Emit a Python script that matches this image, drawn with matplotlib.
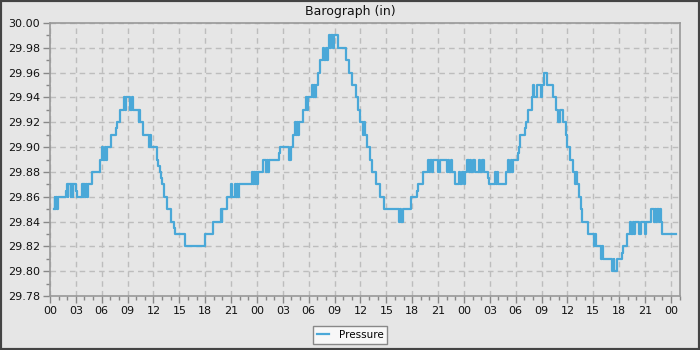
import numpy as np
import matplotlib
matplotlib.use('Agg')
import matplotlib.pyplot as plt
from matplotlib.ticker import MultipleLocator, FuncFormatter
from matplotlib.patches import Rectangle

# --- DATA (hours since first midnight, pressure in inHg), step changes ---
hours = [
    0.45, 0.55, 0.62, 0.72, 0.80, 0.90, 1.85, 1.95, 2.05, 2.12,
    2.40, 2.48, 2.62, 2.70, 3.05, 3.15, 3.70, 3.78, 3.86, 4.05,
    4.12, 4.30, 4.38, 4.85, 5.76, 6.08, 6.15, 6.35, 6.50, 6.60,
    7.04, 7.60, 7.80, 8.10, 8.58, 8.65, 8.80, 9.27, 9.50, 9.58,
    10.27, 10.35, 10.45, 10.77, 11.50, 11.58, 11.70, 12.36, 12.56, 12.75,
    12.87, 13.02, 13.17, 13.52, 14.00, 14.35, 14.45, 15.65, 17.97, 18.86,
    19.85, 19.92, 20.00, 20.48, 20.95, 21.15, 21.45, 21.55, 21.65, 21.85,
    21.95, 23.45, 23.55, 23.65, 23.80, 23.90, 24.05, 24.15, 24.74, 25.05,
    25.15, 25.30, 25.45, 26.55, 26.70, 27.70, 28.00, 28.20, 28.40, 28.50,
    28.65, 28.80, 28.90, 29.37, 29.68, 29.78, 29.90, 30.34, 30.45, 30.60,
    30.72, 30.85, 31.10, 31.30, 31.70, 31.80, 32.00, 32.10, 32.20, 32.40,
    32.50, 32.60, 32.80, 32.90, 33.35, 34.28, 34.70, 35.05, 35.45, 35.70,
    35.90, 36.30, 36.45, 36.55, 36.80, 37.10, 37.37, 37.76, 38.26, 38.68,
    40.50, 40.60, 40.72, 40.90, 41.90, 42.51, 42.65, 43.25, 43.86, 43.95,
    44.10, 44.25, 44.40, 45.00, 45.25, 46.00, 46.10, 46.30, 46.45, 46.60,
    46.95, 47.45, 47.55, 47.73, 48.05, 48.15, 48.40, 48.55, 48.70, 48.85,
    49.00, 49.30, 49.70, 49.85, 50.05, 50.35, 50.75, 50.85, 51.60, 51.70,
    51.85, 52.00, 52.90, 53.10, 53.25, 53.40, 53.55, 53.70, 54.30, 54.40,
    54.50, 55.08, 55.20, 55.46, 55.85, 56.05, 56.15, 56.43, 56.95, 57.10,
    57.28, 57.67, 58.36, 58.67, 58.94, 59.13, 59.52, 59.79, 59.98, 60.30,
    60.60, 60.87, 60.95, 61.06, 61.33, 61.53, 61.72, 62.34, 63.10, 63.20,
    63.30, 63.88, 63.98, 64.08, 65.20, 65.35, 65.45, 65.70, 66.28, 66.47,
    66.86, 67.25, 67.35, 67.55, 67.70, 67.85, 68.33, 68.48, 68.99, 69.14,
    69.68, 70.03, 70.10, 70.30, 70.40, 70.60, 70.70, 70.90, 71.00, 72.54,
]
pressure = [
    29.85, 29.86, 29.85, 29.86, 29.85, 29.86, 29.865, 29.87, 29.86, 29.87,
    29.86, 29.87, 29.86, 29.87, 29.865, 29.86, 29.87, 29.86, 29.87, 29.86,
    29.87, 29.86, 29.87, 29.88, 29.89, 29.90, 29.89, 29.90, 29.89, 29.90,
    29.91, 29.915, 29.92, 29.93, 29.94, 29.93, 29.94, 29.93, 29.94, 29.93,
    29.92, 29.93, 29.92, 29.91, 29.90, 29.91, 29.90, 29.89, 29.885, 29.88,
    29.875, 29.87, 29.86, 29.85, 29.84, 29.835, 29.83, 29.82, 29.83, 29.84,
    29.85, 29.84, 29.85, 29.86, 29.87, 29.86, 29.87, 29.86, 29.87, 29.86,
    29.87, 29.88, 29.87, 29.88, 29.87, 29.88, 29.87, 29.88, 29.89, 29.88,
    29.89, 29.88, 29.89, 29.895, 29.90, 29.89, 29.90, 29.91, 29.92, 29.91,
    29.92, 29.91, 29.92, 29.93, 29.94, 29.93, 29.94, 29.95, 29.94, 29.95,
    29.94, 29.95, 29.96, 29.97, 29.98, 29.97, 29.98, 29.97, 29.98, 29.99,
    29.98, 29.99, 29.98, 29.99, 29.98, 29.97, 29.96, 29.95, 29.94, 29.93,
    29.92, 29.91, 29.92, 29.91, 29.90, 29.89, 29.88, 29.87, 29.86, 29.85,
    29.84, 29.85, 29.84, 29.85, 29.86, 29.865, 29.87, 29.88, 29.89, 29.88,
    29.89, 29.88, 29.89, 29.88, 29.89, 29.88, 29.89, 29.88, 29.89, 29.88,
    29.87, 29.88, 29.87, 29.88, 29.87, 29.88, 29.89, 29.88, 29.89, 29.88,
    29.89, 29.88, 29.89, 29.88, 29.89, 29.88, 29.875, 29.87, 29.88, 29.87,
    29.88, 29.87, 29.88, 29.89, 29.88, 29.89, 29.88, 29.89, 29.895, 29.90,
    29.91, 29.915, 29.92, 29.93, 29.94, 29.95, 29.94, 29.95, 29.94, 29.95,
    29.96, 29.95, 29.94, 29.93, 29.92, 29.93, 29.92, 29.91, 29.90, 29.89,
    29.88, 29.87, 29.88, 29.87, 29.86, 29.85, 29.84, 29.83, 29.82, 29.83,
    29.82, 29.81, 29.82, 29.81, 29.80, 29.81, 29.80, 29.81, 29.815, 29.82,
    29.83, 29.84, 29.83, 29.84, 29.83, 29.84, 29.83, 29.84, 29.83, 29.84,
    29.85, 29.84, 29.85, 29.84, 29.85, 29.84, 29.85, 29.84, 29.83, 29.83,
]

BG = '#e6e6e6'
LINE = '#4aa8d8'

fig = plt.figure(figsize=(7, 3.5), dpi=100, facecolor=BG)
ax = fig.add_axes([50 / 700, 1 - 296 / 350, 630 / 700, 273 / 350])
ax.set_facecolor(BG)

ax.step(hours, pressure, where='post', color=LINE, linewidth=1.6, label='Pressure')

ax.set_xlim(0, 73.05)
ax.set_ylim(29.78, 30.00)

ax.xaxis.set_major_locator(MultipleLocator(3))
ax.xaxis.set_minor_locator(MultipleLocator(1))
ax.xaxis.set_major_formatter(FuncFormatter(lambda v, p: '%02d' % (int(round(v)) % 24)))
ax.yaxis.set_major_locator(MultipleLocator(0.02))
ax.yaxis.set_minor_locator(MultipleLocator(0.01))
ax.yaxis.set_major_formatter(FuncFormatter(lambda v, p: '%.2f' % v))

ax.tick_params(which='major', direction='out', length=5, width=1, color='#888888',
               labelsize=8, labelcolor='#111111', pad=2)
ax.tick_params(which='minor', direction='out', length=3, width=1, color='#888888')

ax.grid(True, which='major', linestyle=(0, (4, 3)), color='#bdbdbd', linewidth=1)
for s in ax.spines.values():
    s.set_color('#999999')
    s.set_linewidth(1.2)

fig.text(0.5, 1 - 11 / 350, 'Barograph (in)', ha='center', va='center', fontsize=9, color='#111111')

leg = fig.legend(loc='lower center', bbox_to_anchor=(0.5, 0.003), fontsize=7.5,
                 frameon=True, fancybox=False, handlelength=1.2, borderpad=0.35,
                 handletextpad=0.9)
leg.get_frame().set_facecolor('#f7f7f7')
leg.get_frame().set_edgecolor('#888888')
leg.get_frame().set_alpha(1)

# dark outer border
fig.patches.append(Rectangle((0, 0), 1, 1, transform=fig.transFigure, fill=False,
                             edgecolor='#444444', linewidth=3, zorder=10))

fig.savefig('out.png', dpi=100, facecolor=BG)
